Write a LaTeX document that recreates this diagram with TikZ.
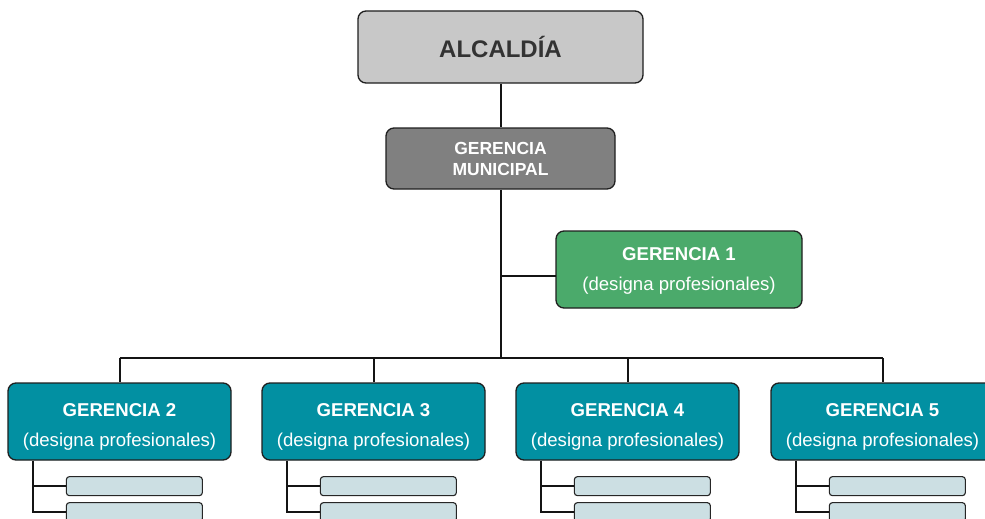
\documentclass[tikz,border=0pt]{standalone}
\usepackage{fontspec}
\setmainfont{Liberation Sans}
\begin{document}
\begin{tikzpicture}[x=1pt,y=-1pt,
  box/.style={draw=black!88,line width=1.3pt,rounded corners=8pt,inner sep=0pt,align=center,font=\fontsize{18}{21}\selectfont},
  topbox/.style={box,fill=topgray,minimum width=285pt,minimum height=72pt,text=black!80,font=\fontsize{24}{28}\selectfont\bfseries},
  gmbox/.style={box,fill=midgray,minimum width=229pt,minimum height=61pt,text=white,font=\fontsize{17.5}{21}\selectfont\bfseries},
  gbox/.style={box,fill=teal2,minimum width=223pt,minimum height=77pt},
  g1box/.style={box,fill=green2,minimum width=246pt,minimum height=77pt},
  intext/.style={text=white,align=center,inner sep=0pt,font=\fontsize{18.6}{21}\selectfont},
  subbox/.style={draw=black!85,line width=1.1pt,rounded corners=3pt,fill=subblue,minimum width=136pt,minimum height=19pt,inner sep=0pt},
  conn/.style={line width=2pt,black!92}
]
\definecolor{topgray}{HTML}{C8C8C8}
\definecolor{midgray}{HTML}{808080}
\definecolor{teal2}{HTML}{0290A2}
\definecolor{green2}{HTML}{4BAA6B}
\definecolor{subblue}{HTML}{CCDFE3}
\useasboundingbox (0,0) rectangle (985,519);
\clip (0,0) rectangle (985,519);

\node[topbox] (alc) at (500.5,47) {ALCALDÍA};
\node[gmbox] (gm) at (500.5,158.5) {GERENCIA\\MUNICIPAL};
\node[g1box,label={[name=g1t,intext,yshift=-1pt]center:\textbf{GERENCIA 1}\\[9pt](designa profesionales)}] (g1) at (679,269.5) {};

\coordinate (bus) at (500.5,358);
\coordinate (g1in) at (556,276);

\foreach \i/\x in {2/119.5,3/373.5,4/627.5,5/882.5}{
  \node[gbox,label={[name=g\i t,intext,yshift=-5pt]center:\textbf{GERENCIA \i}\\[9pt](designa profesionales)}] (g\i) at (\x,421.5) {};
  \node[subbox] (s\i a) at ([xshift=127pt,yshift=-25.5pt]g\i.south west) {};
  \node[subbox] (s\i b) at ([xshift=127pt,yshift=-51.5pt]g\i.south west) {};
  \coordinate (t\i) at ([xshift=26pt]g\i.south west);
  \draw[conn] (t\i) |- (s\i b.west);
  \draw[conn] (t\i |- s\i a.west) -- (s\i a.west);
  \draw[conn] (g\i.north |- bus) -- (g\i.north);
}

\draw[conn] (alc) -- (gm);
\draw[conn] (gm.south) -- (bus);
\draw[conn] (g1in) -- (g1in -| gm.south);
\draw[conn] (g2.north |- bus) -- (g5.north |- bus);
\end{tikzpicture}
\end{document}
